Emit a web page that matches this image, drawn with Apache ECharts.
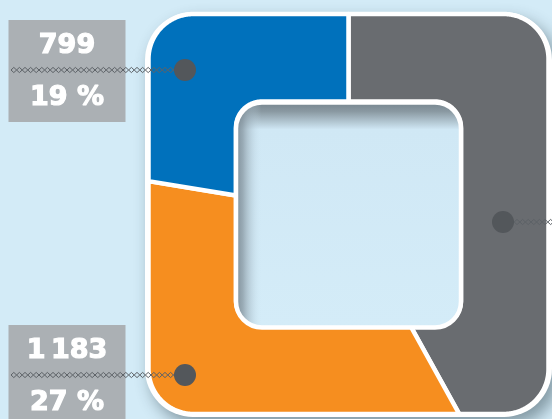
<!DOCTYPE html>
<html>
<head>
<meta charset="utf-8">
<script src="https://cdn.jsdelivr.net/npm/echarts@6/dist/echarts.min.js"></script>
<style>
  html, body { margin: 0; padding: 0; background: #d3ebf7; }
  #chart { width: 552px; height: 419px; }
</style>
</head>
<body>
<div id="chart"></div>
<script>
// slices, clockwise from 12 o'clock: gray, orange, blue
// (the gray label is cut off in the source, its value is estimated from the slice size)
const sliceValues = [1500, 1183, 799];
const valueLabels = ['', '1\u202f183', '799'];
const percentLabels = ['', '27 %', '19 %'];

const sliceColors = ['#696c70', '#f68e1f', '#0071bc'];
const labelAnchors = [[503, 222], [185, 375], [185, 70]];

const CX = 348.5, CY = 214;
const OUTER = 200, OUTER_R = 45;
const INNER = 112.5, INNER_R = 26;

const total = sliceValues.reduce((a, b) => a + b, 0);
const starts = [];
sliceValues.reduce((acc, v, i) => { starts[i] = acc; return acc + v; }, 0);

// t in [0,1] -> point on the unit square, clockwise from the top middle
function squareDir(t) {
  const p = (((t % 1) + 1) % 1) * 8;
  if (p < 1) return [p, -1];
  if (p < 3) return [1, p - 2];
  if (p < 5) return [4 - p, 1];
  if (p < 7) return [-1, 6 - p];
  return [p - 8, -1];
}

// ray from the centre along d, hitting a rounded square of half side h, corner radius r
function hit(d, h, r) {
  let x = d[0] * h, y = d[1] * h;
  const k = h - r;
  if (Math.abs(x) > k && Math.abs(y) > k) {
    const cx = Math.sign(x) * k, cy = Math.sign(y) * k;
    const dl = Math.hypot(d[0], d[1]);
    const ux = d[0] / dl, uy = d[1] / dl;
    const b = ux * cx + uy * cy;
    const s = b + Math.sqrt(Math.max(0, b * b - (cx * cx + cy * cy - r * r)));
    x = ux * s; y = uy * s;
  }
  return [CX + x, CY + y];
}

function renderSlice(params, api) {
  const i = params.dataIndex;
  const t0 = starts[i] / total;
  const t1 = (starts[i] + api.value(0)) / total;
  const n = Math.max(2, Math.ceil((t1 - t0) * 1600));
  const pts = [];
  for (let k = 0; k <= n; k++) pts.push(hit(squareDir(t0 + (t1 - t0) * k / n), OUTER, OUTER_R));
  for (let k = n; k >= 0; k--) pts.push(hit(squareDir(t0 + (t1 - t0) * k / n), INNER, INNER_R));
  return {
    type: 'polygon',
    shape: { points: pts },
    style: { fill: sliceColors[i], stroke: '#ffffff', lineWidth: 4.5, lineJoin: 'round' }
  };
}

function chain(x0, x1, y) {
  const step = 5.6, a = [], b = [];
  for (let x = x0, k = 0; x <= x1; x += step / 2, k++) {
    const off = k % 2 ? 2.6 : 0;
    a.push([x, y - off]);
    b.push([x, y + off]);
  }
  const style = { stroke: '#5d6267', lineWidth: 1, fill: null };
  return [
    { type: 'polyline', z: 20, shape: { points: a }, style },
    { type: 'polyline', z: 20, shape: { points: b }, style }
  ];
}

const labelFont = 'bold 27px "DejaVu Sans"';

const graphics = [
  {
    type: 'rect', z: 0,
    shape: { x: CX - 203.5, y: CY - 202, width: 407, height: 405, r: 48 },
    style: {
      fill: '#ffffff',
      shadowBlur: 16, shadowColor: 'rgba(30,50,60,0.45)',
      shadowOffsetX: 6, shadowOffsetY: 8
    }
  },
  {
    type: 'rect', z: 10,
    shape: { x: CX - INNER, y: CY - INNER + 1, width: INNER * 2, height: INNER * 2, r: INNER_R },
    style: {
      fill: {
        type: 'linear', x: 0, y: 0, x2: 0, y2: 1,
        colorStops: [
          { offset: 0, color: '#76858e' },
          { offset: 0.04, color: '#8a99a2' },
          { offset: 0.12, color: '#d0e8f5' },
          { offset: 1, color: '#d4ecf8' }
        ]
      }
    }
  },
  {
    type: 'rect', z: 11,
    shape: { x: CX - INNER, y: CY - INNER + 1, width: INNER * 2, height: INNER * 2, r: INNER_R },
    style: {
      fill: {
        type: 'linear', x: 0, y: 0, x2: 1, y2: 0,
        colorStops: [
          { offset: 0, color: 'rgba(112,127,137,0.95)' },
          { offset: 0.04, color: 'rgba(130,145,155,0.7)' },
          { offset: 0.12, color: 'rgba(205,229,242,0)' },
          { offset: 1, color: 'rgba(205,229,242,0)' }
        ]
      },
      stroke: '#ffffff', lineWidth: 4.5
    }
  }
];

sliceValues.forEach((v, i) => {
  const [ax, ay] = labelAnchors[i];
  if (valueLabels[i]) {
    graphics.push({
      type: 'rect', z: 15,
      shape: { x: 8.5, y: ay - 50, width: 117, height: 102 },
      style: { fill: '#abb0b4' }
    });
    [[valueLabels[i], ay - 24], [percentLabels[i], ay + 28]].forEach(([txt, ty]) => {
      graphics.push({
        type: 'text', z: 16,
        style: {
          text: txt, x: 67, y: ty,
          fill: '#ffffff', stroke: '#ffffff', lineWidth: 1.2,
          font: labelFont, align: 'center', verticalAlign: 'middle'
        }
      });
    });
    graphics.push(...chain(11, ax, ay));
  } else {
    graphics.push(...chain(ax, 560, ay));
  }
  graphics.push({
    type: 'circle', z: 21,
    shape: { cx: ax, cy: ay, r: 11 },
    style: { fill: '#53575b' }
  });
});

const chart = echarts.init(document.getElementById('chart'));
chart.setOption({
  backgroundColor: '#d3ebf7',
  animation: false,
  graphic: { elements: graphics },
  series: [{
    type: 'custom',
    coordinateSystem: 'none',
    z: 5,
    renderItem: renderSlice,
    data: sliceValues.map((v) => [v])
  }]
});
</script>
</body>
</html>
